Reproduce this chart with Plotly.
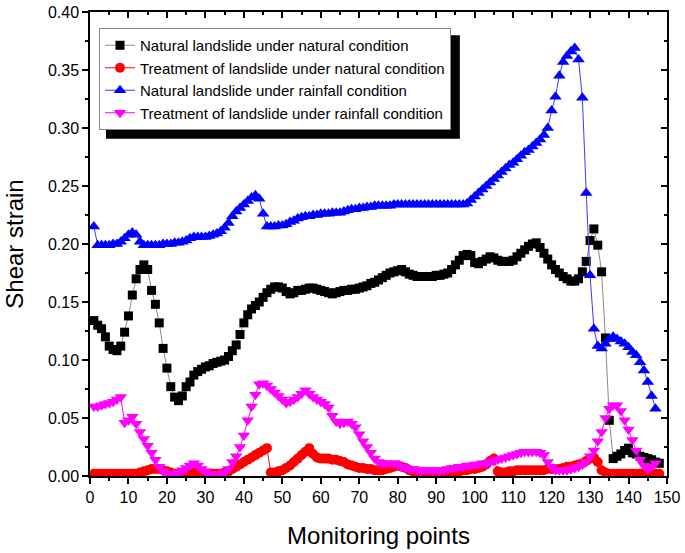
import plotly.graph_objects as go

points = list(range(1, 149))

natural_natural = [
    0.134, 0.130, 0.127, 0.120, 0.112, 0.109, 0.108, 0.112, 0.124, 0.138,
    0.156, 0.170, 0.178, 0.182, 0.178, 0.160, 0.148, 0.132, 0.110, 0.093,
    0.077, 0.068, 0.065, 0.069, 0.077, 0.081, 0.087, 0.090, 0.092, 0.094,
    0.095, 0.097, 0.098, 0.099, 0.100, 0.103, 0.108, 0.113, 0.122, 0.132,
    0.139, 0.144, 0.147, 0.150, 0.154, 0.158, 0.161, 0.163, 0.163, 0.162,
    0.159, 0.157, 0.158, 0.160, 0.160, 0.161, 0.162, 0.162, 0.161, 0.160,
    0.159, 0.158, 0.157, 0.158, 0.159, 0.160, 0.160, 0.161, 0.161, 0.162,
    0.163, 0.164, 0.166, 0.167, 0.169, 0.171, 0.173, 0.175, 0.176, 0.177,
    0.178, 0.176, 0.174, 0.173, 0.172, 0.172, 0.172, 0.172, 0.172, 0.173,
    0.173, 0.174, 0.175, 0.178, 0.182, 0.186, 0.190, 0.191, 0.190, 0.184,
    0.183, 0.185, 0.187, 0.189, 0.188, 0.186, 0.185, 0.185, 0.185, 0.186,
    0.189, 0.192, 0.195, 0.198, 0.200, 0.201, 0.197, 0.192, 0.187, 0.182,
    0.178, 0.175, 0.172, 0.170, 0.168, 0.168, 0.170, 0.176, 0.185, 0.203,
    0.213, 0.199, 0.176, 0.119, 0.048, 0.015, 0.017, 0.019, 0.022, 0.024,
    0.020, 0.019, 0.017, 0.016, 0.015, 0.014, 0.012, 0.011,
]

treated_natural = [
    0.002, 0.002, 0.002, 0.002, 0.002, 0.002, 0.002, 0.002, 0.002, 0.002,
    0.002, 0.002, 0.003, 0.004, 0.005, 0.006, 0.006, 0.006, 0.005, 0.004,
    0.003, 0.002, 0.002, 0.002, 0.002, 0.002, 0.003, 0.003, 0.002, 0.002,
    0.002, 0.002, 0.002, 0.002, 0.003, 0.004, 0.006, 0.008, 0.010, 0.012,
    0.014, 0.016, 0.018, 0.020, 0.022, 0.024, 0.003, 0.003, 0.004, 0.005,
    0.007, 0.009, 0.012, 0.015, 0.018, 0.021, 0.024, 0.019, 0.016, 0.015,
    0.015, 0.015, 0.014, 0.014, 0.013, 0.012, 0.010, 0.009, 0.008, 0.007,
    0.007, 0.006, 0.006, 0.005, 0.005, 0.005, 0.006, 0.007, 0.008, 0.009,
    0.008, 0.007, 0.005, 0.004, 0.004, 0.003, 0.003, 0.003, 0.003, 0.003,
    0.003, 0.003, 0.003, 0.003, 0.003, 0.004, 0.005, 0.005, 0.006, 0.006,
    0.007, 0.008, 0.010, 0.013, 0.015, 0.004, 0.003, 0.003, 0.004, 0.004,
    0.005, 0.005, 0.005, 0.005, 0.005, 0.005, 0.005, 0.005, 0.006, 0.006,
    0.006, 0.006, 0.007, 0.008, 0.008, 0.009, 0.010, 0.011, 0.013, 0.015,
    0.016, 0.012, 0.005, 0.003, 0.002, 0.002, 0.002, 0.002, 0.002, 0.002,
    0.002, 0.002, 0.002, 0.002, 0.002, 0.002, 0.002, 0.002,
]

natural_rainfall = [
    0.215, 0.199, 0.199, 0.199, 0.199, 0.200, 0.200, 0.202, 0.205, 0.208,
    0.210, 0.208, 0.202, 0.199, 0.199, 0.199, 0.199, 0.199, 0.200, 0.200,
    0.200, 0.201, 0.201, 0.202, 0.203, 0.205, 0.206, 0.206, 0.206, 0.206,
    0.207, 0.208, 0.209, 0.211, 0.214, 0.218, 0.224, 0.228, 0.231, 0.234,
    0.237, 0.240, 0.242, 0.239, 0.226, 0.215, 0.215, 0.215, 0.216, 0.216,
    0.217, 0.219, 0.220, 0.222, 0.223, 0.224, 0.224, 0.225, 0.225, 0.226,
    0.226, 0.226, 0.227, 0.227, 0.227, 0.228, 0.229, 0.230, 0.230, 0.231,
    0.231, 0.232, 0.232, 0.233, 0.233, 0.233, 0.233, 0.233, 0.234, 0.234,
    0.234, 0.234, 0.234, 0.234, 0.234, 0.234, 0.234, 0.234, 0.234, 0.234,
    0.234, 0.234, 0.234, 0.234, 0.234, 0.234, 0.234, 0.235, 0.238, 0.241,
    0.244, 0.247, 0.250, 0.253, 0.256, 0.259, 0.262, 0.265, 0.268, 0.270,
    0.273, 0.276, 0.279, 0.281, 0.284, 0.287, 0.290, 0.294, 0.300, 0.315,
    0.327, 0.345, 0.357, 0.362, 0.366, 0.369, 0.359, 0.326, 0.244, 0.173,
    0.127, 0.112, 0.110, 0.114, 0.118, 0.120, 0.118, 0.116, 0.114, 0.111,
    0.107, 0.104, 0.098, 0.091, 0.081, 0.069, 0.058,
]

treated_rainfall = [
    0.060, 0.060, 0.061, 0.062, 0.063, 0.064, 0.066, 0.068, 0.046, 0.048,
    0.051, 0.045, 0.038, 0.032, 0.026, 0.020, 0.014, 0.008, 0.004, 0.002,
    0.002, 0.002, 0.003, 0.005, 0.007, 0.009, 0.011, 0.009, 0.006, 0.004,
    0.002, 0.002, 0.002, 0.002, 0.003, 0.006, 0.012, 0.017, 0.025, 0.035,
    0.048, 0.060, 0.070, 0.079, 0.080, 0.078, 0.075, 0.072, 0.069, 0.066,
    0.063, 0.064, 0.066, 0.068, 0.071, 0.074, 0.071, 0.068, 0.066, 0.064,
    0.062, 0.059, 0.052, 0.047, 0.045, 0.046, 0.047, 0.045, 0.042, 0.036,
    0.030, 0.025, 0.020, 0.015, 0.012, 0.011, 0.011, 0.011, 0.011, 0.010,
    0.008, 0.007, 0.006, 0.006, 0.005, 0.005, 0.005, 0.005, 0.005, 0.005,
    0.005, 0.005, 0.006, 0.007, 0.007, 0.008, 0.008, 0.009, 0.009, 0.010,
    0.010, 0.011, 0.011, 0.012, 0.013, 0.014, 0.015, 0.016, 0.017, 0.018,
    0.019, 0.020, 0.021, 0.021, 0.021, 0.021, 0.020, 0.018, 0.012, 0.008,
    0.005, 0.005, 0.005, 0.005, 0.006, 0.007, 0.008, 0.010, 0.012, 0.017,
    0.022, 0.030, 0.038, 0.050, 0.058, 0.061, 0.061, 0.056, 0.048, 0.040,
    0.031, 0.022, 0.014, 0.009, 0.006, 0.008, 0.011,
]

x_ticks = list(range(0, 151, 10))
y_ticks = [0.00, 0.05, 0.10, 0.15, 0.20, 0.25, 0.30, 0.35, 0.40]

names = [
    "Natural landslide under natural condition",
    "Treatment of landslide under natural condition",
    "Natural landslide under rainfall condition",
    "Treatment of landslide under rainfall condition",
]

FONT = "Arial, Liberation Sans, sans-serif"

fig = go.Figure()
fig.add_trace(go.Scatter(
    x=points[:len(natural_natural)], y=natural_natural, name=names[0],
    mode="lines+markers", line=dict(color="#8a8a8a", width=1),
    marker=dict(symbol="square", size=9, color="#000000")))
fig.add_trace(go.Scatter(
    x=points[:len(treated_natural)], y=treated_natural, name=names[1],
    mode="lines+markers", line=dict(color="#ff0000", width=1),
    marker=dict(symbol="circle", size=10, color="#ff0000")))
fig.add_trace(go.Scatter(
    x=points[:len(natural_rainfall)], y=natural_rainfall, name=names[2],
    mode="lines+markers", line=dict(color="#3a3aff", width=1),
    marker=dict(symbol="triangle-up", size=11, color="#0000ff")))
fig.add_trace(go.Scatter(
    x=points[:len(treated_rainfall)], y=treated_rainfall, name=names[3],
    mode="lines+markers", line=dict(color="#ff00ff", width=1),
    marker=dict(symbol="triangle-down", size=11, color="#ff00ff")))
# empty trace so the mirrored (top/right) axes get drawn with inward ticks
fig.add_trace(go.Scatter(x=[], y=[], xaxis="x2", yaxis="y2",
                         showlegend=False, hoverinfo="skip"))

axis_common = dict(showgrid=False, zeroline=False, showline=True, automargin=False,
                   linecolor="#000000", linewidth=1.5, tickcolor="#000000")

fig.update_layout(
    width=685, height=553,
    margin=dict(l=90, r=18, t=12, b=77, autoexpand=False),
    paper_bgcolor="white", plot_bgcolor="white",
    font=dict(family=FONT, color="#000000"),
    xaxis=dict(range=[0, 150], tickvals=x_ticks, ticktext=[str(v) for v in x_ticks],
               ticks="outside", ticklen=6, tickwidth=1.5,
               minor=dict(dtick=5, tick0=0, ticks="outside", ticklen=3, tickwidth=1.5, tickcolor="#000"),
               tickfont=dict(size=16, family=FONT),
               title=dict(text="Monitoring points", font=dict(size=24, family=FONT), standoff=22),
               **axis_common),
    yaxis=dict(range=[0, 0.40], tickvals=y_ticks, ticktext=[f"{v:.2f}" for v in y_ticks],
               ticks="outside", ticklen=6, tickwidth=1.5,
               minor=dict(dtick=0.025, tick0=0, ticks="outside", ticklen=3, tickwidth=1.5, tickcolor="#000"),
               tickfont=dict(size=16, family=FONT),
               title=dict(text="Shear strain", font=dict(size=24, family=FONT), standoff=18),
               **axis_common),
    xaxis2=dict(range=[0, 150], overlaying="x", side="top", anchor="y2",
                tickvals=x_ticks, showticklabels=False, ticks="inside", ticklen=6, tickwidth=1.5,
                minor=dict(dtick=5, tick0=0, ticks="inside", ticklen=3, tickwidth=1.5, tickcolor="#000"),
                **axis_common),
    yaxis2=dict(range=[0, 0.40], overlaying="y", side="right", anchor="x2",
                tickvals=y_ticks, showticklabels=False, ticks="inside", ticklen=6, tickwidth=1.5,
                minor=dict(dtick=0.025, tick0=0, ticks="inside", ticklen=3, tickwidth=1.5, tickcolor="#000"),
                **axis_common),
    legend=dict(x=0.0156, y=0.9655, xanchor="left", yanchor="top",
                bgcolor="white", bordercolor="#888888", borderwidth=1,
                font=dict(size=15, family=FONT), tracegroupgap=0),
    showlegend=True,
)

# legend drop shadow
fig.add_shape(type="rect", xref="paper", yref="paper",
              x0=0.0277, x1=0.641, y0=0.727, y1=0.950,
              fillcolor="#000000", line=dict(width=0), layer="above")

fig.write_html("out.html", config={"displayModeBar": False},
               post_script="document.body.style.margin='0';")
